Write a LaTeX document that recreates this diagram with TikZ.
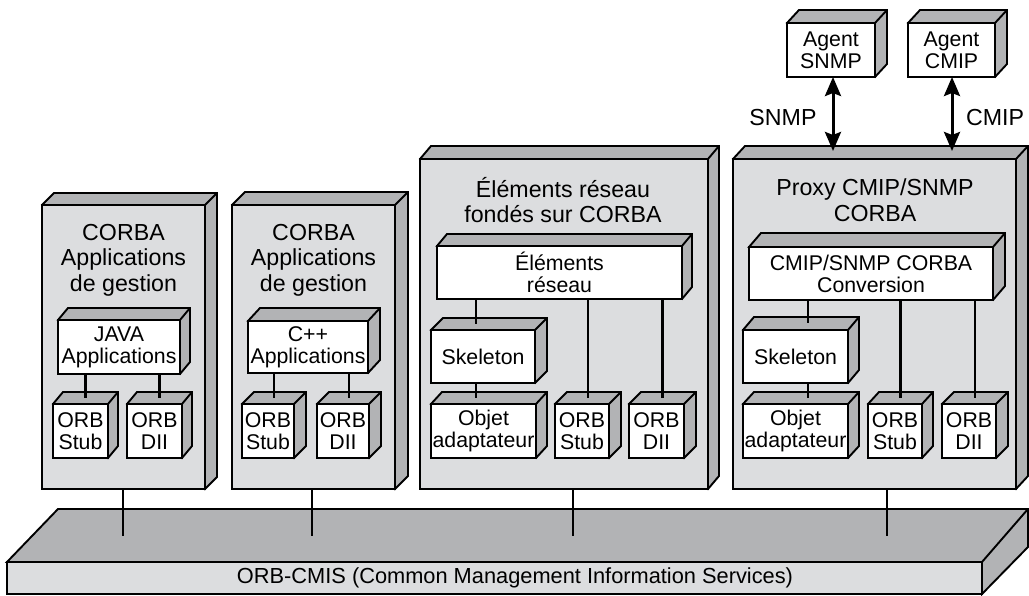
\documentclass[tikz,border=0pt]{standalone}
\usepackage{fontspec}
\setmainfont{Liberation Sans}
\usetikzlibrary{arrows.meta,calc}
\definecolor{facegray}{RGB}{220,221,223}
\definecolor{shadegray}{RGB}{178,179,181}
\newcommand\titlefont{\fontsize{23.2}{25.5}\selectfont}
\newcommand\innerfont{\fontsize{21.3}{22}\selectfont}
\newcommand\basefont{\fontsize{21.8}{24}\selectfont}
\tikzset{
  outl/.style={line width=1.9pt, line join=miter},
  colbox/.style={fill=facegray},
  inbox/.style={fill=white, font=\innerfont},
  conn/.style={line width=2.4pt},
  dblarrow/.style={line width=3pt, {Stealth[length=19pt,width=16pt,inset=3pt]}-{Stealth[length=19pt,width=16pt,inset=3pt]}},
  lbl/.style={font=\titlefont, align=center, inner sep=0pt}
}
% #1 name, #2 x1, #3 y1, #4 x2, #5 y2, #6 depth x, #7 depth y, #8 style, #9 text
\newcommand\cubebox[9]{%
  \draw[outl, fill=shadegray] (#2,#3) -- ({#2+#6},{#3-#7}) -- ({#4+#6},{#3-#7}) -- ({#4+#6},{#5-#7}) -- (#4,#5) -- cycle;
  \draw[outl] (#4,#3) -- ({#4+#6},{#3-#7});
  \node[outl, draw, #8, anchor=north west, inner sep=0pt, outer sep=0pt,
        minimum width={(#4-#2)*1pt}, minimum height={(#5-#3)*1pt}, align=center] (#1) at (#2,#3) {#9};
  \coordinate (#1-top) at ({(#2+#4+#6)/2},{#3-#7/2});
}
\begin{document}
\begin{tikzpicture}[x=1pt,y=-1pt]
\useasboundingbox (0,0) rectangle (1029,596);

% platform
\draw[outl, fill=shadegray] (7,562) -- (58,509) -- (1028,509) -- (1028,547) -- (982,594) -- (982,562) -- cycle;
\draw[outl] (982,562) -- (1028,509);
\node[outl, draw, fill=facegray, anchor=north west, inner sep=0pt, outer sep=0pt,
      minimum width=975pt, minimum height=32pt] (plat) at (7,562) {};
\node[font=\basefont, inner sep=0pt] (platlbl) at (515,578) {ORB-CMIS (Common Management Information Services)};

% columns
\cubebox{c1}{42}{205}{205}{489}{12}{12}{colbox}{}
\cubebox{c2}{232}{205}{395}{489}{13}{13}{colbox}{}
\cubebox{c3}{420}{159}{708}{489}{11}{13}{colbox}{}
\cubebox{c4}{733}{159}{1016}{489}{12}{13}{colbox}{}

% column titles
\node[lbl] (t1) at (123.5,260) {CORBA\\Applications\\de gestion};
\node[lbl] (t2) at (313.5,260) {CORBA\\Applications\\de gestion};
\node[lbl] (t3) at (563,200) {Éléments réseau\\fondés sur CORBA};
\node[lbl] (t4) at (875,200) {Proxy CMIP/SNMP\\CORBA};

% column 1
\cubebox{java}{58}{320}{180}{374}{10}{12}{inbox}{JAVA\\Applications}
\cubebox{s1}{53}{404}{108}{458}{10}{12}{inbox}{ORB\\Stub}
\cubebox{d1}{127}{404}{182}{458}{10}{12}{inbox}{ORB\\DII}
% column 2
\cubebox{cpp}{248}{321}{368}{373}{12}{13}{inbox}{C++\\Applications}
\cubebox{s2}{242}{404}{294}{458}{12}{12}{inbox}{ORB\\Stub}
\cubebox{d2}{317}{404}{369}{458}{12}{12}{inbox}{ORB\\DII}
% column 3
\cubebox{elem}{437}{246}{682}{299}{10}{12}{inbox}{Éléments\\réseau}
\cubebox{sk3}{431}{330}{535}{383}{12}{12}{inbox}{Skeleton}
\cubebox{ob3}{431}{404}{536}{458}{11}{12}{inbox}{Objet\\adaptateur}
\cubebox{s3}{555}{404}{609}{458}{12}{12}{inbox}{ORB\\Stub}
\cubebox{d3}{629}{404}{684}{458}{12}{12}{inbox}{ORB\\DII}
% column 4
\cubebox{conv}{749}{247}{993}{300}{12}{14}{inbox}{CMIP/SNMP CORBA\\Conversion}
\cubebox{sk4}{743}{330}{848}{383}{11}{13}{inbox}{Skeleton}
\cubebox{ob4}{743}{404}{848}{458}{11}{12}{inbox}{Objet\\adaptateur}
\cubebox{s4}{868}{404}{922}{458}{11}{12}{inbox}{ORB\\Stub}
\cubebox{d4}{942}{404}{996}{458}{12}{12}{inbox}{ORB\\DII}
% agents
\cubebox{asnmp}{787}{23}{875}{77}{12}{13}{inbox}{Agent\\SNMP}
\cubebox{acmip}{908}{23}{995}{77}{12}{13}{inbox}{Agent\\CMIP}

% connectors inside columns
\draw[conn] (java.south -| s1-top) -- (s1-top);
\draw[conn] (java.south -| d1-top) -- (d1-top);
\draw[conn] (cpp.south -| s2-top) -- (s2-top);
\draw[conn] (cpp.south -| d2-top) -- (d2-top);
\coordinate (l3) at (476,0);
\draw[conn] (elem.south -| l3) -- (sk3-top -| l3);
\draw[conn] (sk3.south -| l3) -- (ob3-top -| l3);
\draw[conn] (elem.south -| s3-top) -- (s3-top);
\draw[conn] (elem.south -| d3-top) -- (d3-top);
\coordinate (l4) at (808,0);
\draw[conn] (conv.south -| l4) -- (sk4-top -| l4);
\draw[conn] (sk4.south -| l4) -- (ob4-top -| l4);
\draw[conn] (conv.south -| s4-top) -- (s4-top);
\draw[conn] (conv.south -| d4-top) -- (d4-top);

% columns to platform
\coordinate (b1) at (123,536);
\coordinate (b2) at (312,536);
\coordinate (b3) at (573,536);
\coordinate (b4) at (887,536);
\draw[conn] (c1.south -| b1) -- (b1);
\draw[conn] (c2.south -| b2) -- (b2);
\draw[conn] (c3.south -| b3) -- (b3);
\draw[conn] (c4.south -| b4) -- (b4);

% protocol arrows
\coordinate (ea) at (833,151);
\coordinate (eb) at (952,151);
\draw[dblarrow] (asnmp.south -| ea) -- (ea);
\draw[dblarrow] (acmip.south -| eb) -- (eb);
\node[lbl] (snmp) at (783,118) {SNMP};
\node[lbl] (cmip) at (995,118) {CMIP};
\end{tikzpicture}
\end{document}
